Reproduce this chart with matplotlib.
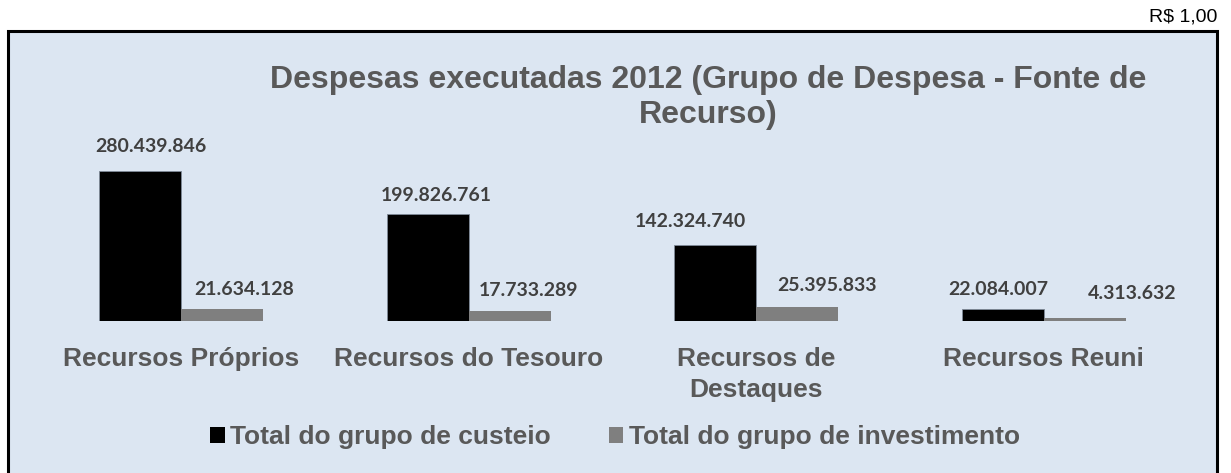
import matplotlib
matplotlib.use("Agg")
import matplotlib.pyplot as plt
from matplotlib.patches import Rectangle, Patch
import numpy as np

# ---- data ----
categories = ["Recursos Próprios", "Recursos do Tesouro", "Recursos de\nDestaques", "Recursos Reuni"]
series_names = ["Total do grupo de custeio", "Total do grupo de investimento"]
custeio = [280439846, 199826761, 142324740, 22084007]
investimento = [21634128, 17733289, 25395833, 4313632]
title = "Despesas executadas 2012 (Grupo de Despesa - Fonte de\nRecurso)"
unit_note = "R$ 1,00"

# ---- label nudges (pixels), style ----
custeio_dx = [11, 9, -25, -5]
custeio_dy = [16, 10, 15, 11]
invest_dx = [22, 19, 30, 47]
invest_dy = [11, 12, 13, 16]

W, H, DPI = 1231, 473, 100
BG = "#dce6f2"
TXT = "#595959"
LBL = "#404040"

def fmt(v):
    return f"{v:,}".replace(",", ".")

fig = plt.figure(figsize=(W / DPI, H / DPI), dpi=DPI)
fig.patch.set_facecolor("white")

# chart area box
box = Rectangle((8 / W, -0.05), (1217 - 8) / W, (H - 31) / H + 0.05,
                transform=fig.transFigure, facecolor=BG, edgecolor="black",
                linewidth=2.2, zorder=-5)
fig.patches.append(box)

fig.text(1217 / W, 1 - 17 / H, unit_note, ha="right", va="center",
         fontsize=14, family="Liberation Sans", color="black")

fig.text(708 / W, 1 - 65 / H, title, ha="center", va="top", fontsize=23,
         fontweight="bold", family="Liberation Sans", color=TXT, linespacing=1.22)

# axes placement
ax_left, ax_right = 37.2, 1187.6
ax_bottom_px = 320.7
ax_h_px = 190
ax = fig.add_axes([ax_left / W, (H - ax_bottom_px) / H,
                   (ax_right - ax_left) / W, ax_h_px / H])
ax.set_zorder(2)
ax.set_facecolor("none")
ymax = max(custeio) * ax_h_px / 150.0
ax.set_ylim(0, ymax)
ax.set_xlim(-0.5, len(categories) - 0.5)

x = np.arange(len(categories))
bw = 82 / 287.6
b1 = ax.bar(x - bw / 2, custeio, width=bw, color="black", edgecolor="#7f8a99",
            linewidth=0.6, label=series_names[0])
b2 = ax.bar(x + bw / 2, investimento, width=bw, color="#7f7f7f", linewidth=0,
            label=series_names[1])

for i, (r, v) in enumerate(zip(b1, custeio)):
    ax.annotate(fmt(v), (r.get_x() + r.get_width() / 2, v),
                xytext=(custeio_dx[i], custeio_dy[i]), textcoords="offset pixels",
                ha="center", va="bottom", fontsize=14, fontweight="bold",
                family="Lato", color=LBL, annotation_clip=False)
for i, (r, v) in enumerate(zip(b2, investimento)):
    ax.annotate(fmt(v), (r.get_x() + r.get_width() / 2, v),
                xytext=(invest_dx[i], invest_dy[i]), textcoords="offset pixels",
                ha="center", va="bottom", fontsize=14, fontweight="bold",
                family="Lato", color=LBL, annotation_clip=False)

ax.set_xticks(x)
ax.set_xticklabels(categories, fontsize=19, fontweight="bold",
                   family="Liberation Sans", color=TXT, linespacing=1.35)
ax.tick_params(axis="x", length=0, pad=19)
ax.set_yticks([])
for s in ax.spines.values():
    s.set_visible(False)

handles = [Patch(facecolor="black", edgecolor="none"),
           Patch(facecolor="#7f7f7f", edgecolor="none")]
leg = fig.legend(handles, series_names, loc="center",
                 bbox_to_anchor=(615 / W, 1 - 437 / H), ncol=2, frameon=False,
                 prop={"family": "Liberation Sans", "weight": "bold", "size": 19},
                 handlelength=0.55, handleheight=0.55, handletextpad=0.2,
                 columnspacing=2.2, borderpad=0)
for t in leg.get_texts():
    t.set_color(TXT)

fig.savefig("out.png", dpi=DPI, facecolor="white")
